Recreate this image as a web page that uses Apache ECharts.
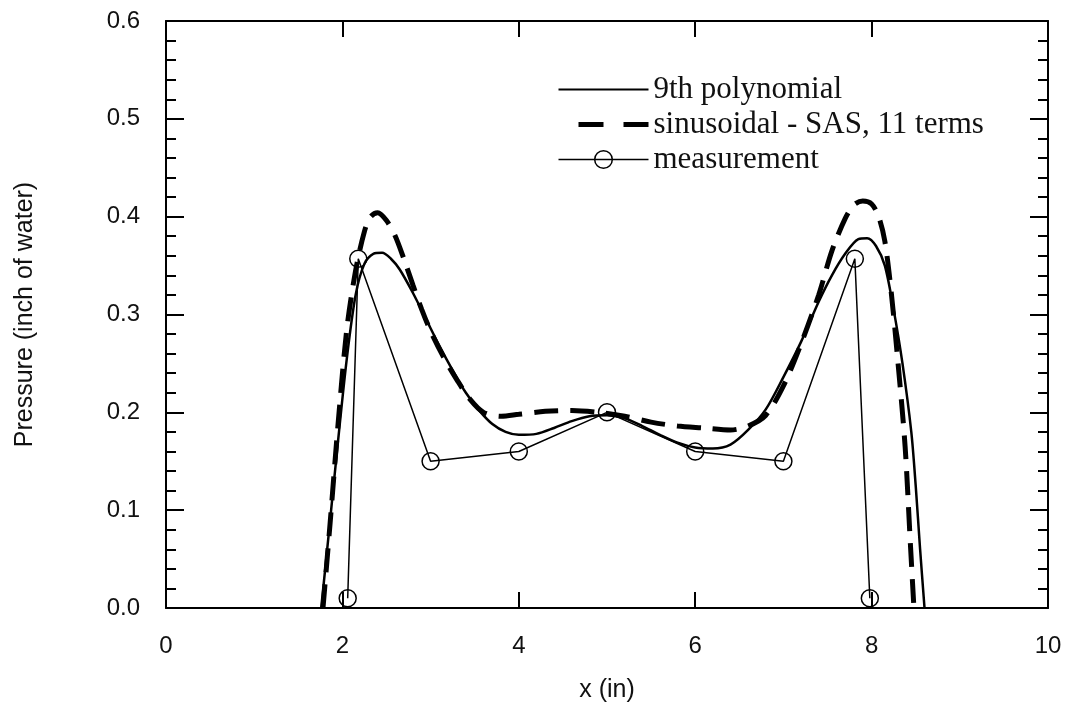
<!DOCTYPE html>
<html>
<head>
<meta charset="utf-8">
<script src="https://cdn.jsdelivr.net/npm/echarts@6/dist/echarts.min.js"></script>
<style>
  html, body { margin: 0; padding: 0; background: #fff; }
  #chart { width: 1065px; height: 710px; }
</style>
</head>
<body>
<div id="chart"></div>
<script>
// values, [x (in), pressure]
var polyData = [
    [1.76, 0], [1.85, 0.08], [1.95, 0.17], [2.05, 0.255], [2.15, 0.32], [2.25, 0.352],
    [2.35, 0.362], [2.45, 0.363], [2.55, 0.357], [2.65, 0.346], [2.8, 0.322], [2.95, 0.295],
    [3.1, 0.268], [3.25, 0.243], [3.4, 0.22], [3.55, 0.202], [3.7, 0.188], [3.85, 0.18],
    [4.0, 0.177], [4.2, 0.178], [4.4, 0.184], [4.6, 0.191], [4.8, 0.196], [5.0, 0.197],
    [5.2, 0.194], [5.4, 0.186], [5.6, 0.177], [5.8, 0.169], [6.0, 0.164], [6.2, 0.163],
    [6.4, 0.167], [6.6, 0.182], [6.8, 0.203], [7.0, 0.236], [7.2, 0.272], [7.4, 0.313],
    [7.55, 0.34], [7.7, 0.362], [7.85, 0.377], [7.95, 0.378], [8.05, 0.37], [8.15, 0.35],
    [8.25, 0.305], [8.35, 0.25], [8.45, 0.18], [8.5, 0.125], [8.55, 0.06], [8.6, 0]
];
var sasData = [
    [1.78, 0], [1.86, 0.086], [1.95, 0.187], [2.05, 0.285], [2.15, 0.345], [2.25, 0.385],
    [2.32, 0.4], [2.4, 0.404], [2.5, 0.396], [2.6, 0.38], [2.7, 0.356], [2.8, 0.33],
    [2.9, 0.305], [3.0, 0.283], [3.15, 0.256], [3.3, 0.233], [3.45, 0.213], [3.6, 0.2],
    [3.8, 0.196], [4.0, 0.198], [4.3, 0.201], [4.6, 0.202], [4.9, 0.2], [5.2, 0.196],
    [5.5, 0.19], [5.8, 0.186], [6.1, 0.184], [6.4, 0.182], [6.6, 0.186], [6.8, 0.197],
    [7.0, 0.227], [7.2, 0.27], [7.4, 0.32], [7.55, 0.365], [7.7, 0.398], [7.8, 0.412],
    [7.9, 0.416], [8.0, 0.413], [8.08, 0.4], [8.15, 0.375], [8.22, 0.325], [8.3, 0.25],
    [8.38, 0.165], [8.44, 0.065], [8.48, 0]
];
var measData = [
    [2.06, 0.01], [2.18, 0.357], [3.0, 0.15], [4.0, 0.16], [5.0, 0.2],
    [6.0, 0.16], [7.0, 0.15], [7.81, 0.357], [7.98, 0.01]
];
var legendNames = ["9th polynomial", "sinusoidal - SAS, 11 terms", "measurement"];

var myChart = echarts.init(document.getElementById("chart"));
var sans = "Liberation Sans";
var serif = "Liberation Serif";

var frameLine = { show: true, onZero: false, lineStyle: { color: "#000", width: 2 } };
var tickStyle = { color: "#000", width: 2 };
var hollow = { color: "transparent", borderColor: "#000", borderWidth: 1.5 };

var option = {
    backgroundColor: "#fff",
    animation: false,
    color: ["#000", "#000", "#000"],
    grid: {
        left: 166,
        right: 17,
        top: 21,
        bottom: 102,
        containLabel: false
    },
    legend: {
        show: true,
        orient: "vertical",
        left: 551,
        top: 69,
        itemWidth: 90,
        itemHeight: 22,
        itemGap: 4,
        textStyle: {
            color: "#111",
            fontSize: 31,
            lineHeight: 31,
            fontFamily: serif
        },
        data: [
            {
                name: legendNames[0],
                itemStyle: { opacity: 0 },
                lineStyle: { color: "#000", width: 2 }
            },
            {
                name: legendNames[1],
                itemStyle: { opacity: 0 },
                lineStyle: { color: "#000", width: 5, type: [25, 20], dashOffset: 25 }
            },
            {
                name: legendNames[2],
                itemStyle: hollow,
                lineStyle: { color: "#000", width: 1.5 }
            }
        ]
    },
    xAxis: [{
        type: "value",
        min: 0,
        max: 10,
        interval: 2,
        name: "x (in)",
        nameLocation: "middle",
        nameGap: 70,
        nameTextStyle: { color: "#111", fontSize: 25, fontFamily: sans },
        axisLine: frameLine,
        splitLine: { show: false },
        axisTick: { inside: true, length: 16, lineStyle: tickStyle },
        axisLabel: { color: "#111", fontSize: 24, fontFamily: sans, margin: 26 }
    }, {
        type: "value",
        position: "top",
        min: 0,
        max: 10,
        interval: 2,
        axisLine: frameLine,
        splitLine: { show: false },
        axisTick: { inside: true, length: 16, lineStyle: tickStyle },
        axisLabel: { show: false }
    }],
    yAxis: [{
        type: "value",
        min: 0,
        max: 0.6,
        interval: 0.1,
        name: "Pressure (inch of water)",
        nameLocation: "middle",
        nameGap: 128,
        nameTextStyle: { color: "#111", fontSize: 25, fontFamily: sans },
        axisLine: frameLine,
        splitLine: { show: false },
        axisTick: { inside: true, length: 18, lineStyle: tickStyle },
        minorTick: { show: true, splitNumber: 5, length: 10, lineStyle: tickStyle },
        axisLabel: {
            color: "#111",
            fontSize: 24,
            fontFamily: sans,
            margin: 26,
            formatter: function (v) {
                return v.toFixed(1);
            }
        }
    }, {
        type: "value",
        position: "right",
        min: 0,
        max: 0.6,
        interval: 0.1,
        axisLine: frameLine,
        splitLine: { show: false },
        axisTick: { inside: true, length: 18, lineStyle: tickStyle },
        minorTick: { show: true, splitNumber: 5, length: 10, lineStyle: tickStyle },
        axisLabel: { show: false }
    }],
    series: [
        {
            name: legendNames[0],
            type: "line",
            smooth: 0.3,
            symbol: "none",
            color: "#000",
            lineStyle: { color: "#000", width: 2.5 },
            data: polyData,
            z: 3
        },
        {
            name: legendNames[1],
            type: "line",
            smooth: 0.3,
            symbol: "none",
            color: "#000",
            lineStyle: { color: "#000", width: 5, type: [24, 12] },
            data: sasData,
            z: 2
        },
        {
            name: legendNames[2],
            type: "line",
            smooth: false,
            symbol: "circle",
            symbolSize: 17,
            showAllSymbol: true,
            color: "#000",
            lineStyle: { color: "#000", width: 1.5 },
            itemStyle: hollow,
            data: measData,
            z: 4
        }
    ]
};
myChart.setOption(option, true);
</script>
</body>
</html>
